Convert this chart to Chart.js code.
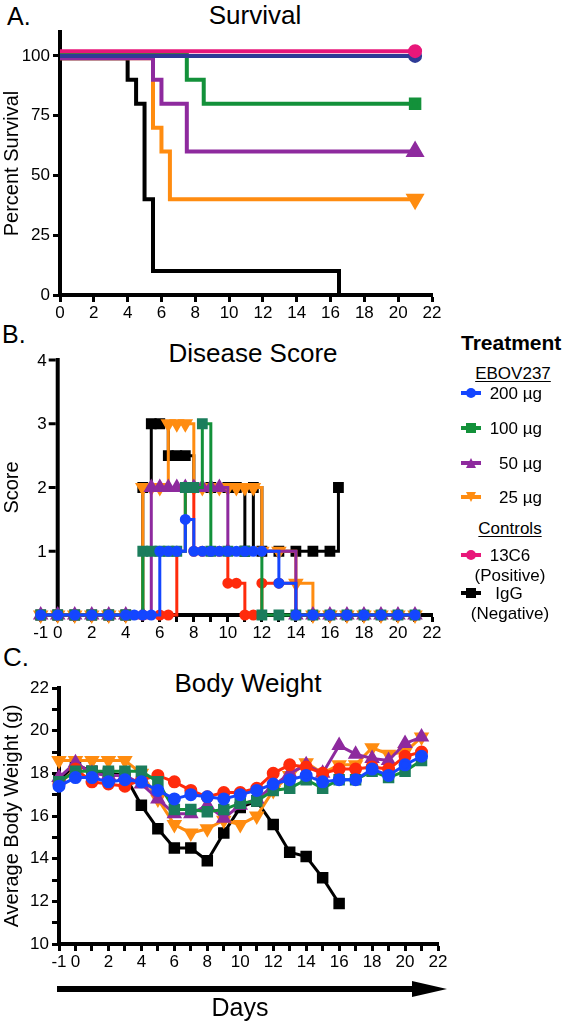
<!DOCTYPE html>
<html>
<head>
<meta charset="utf-8">
<script src="https://cdn.jsdelivr.net/npm/chart.js@4/dist/chart.umd.min.js"></script>
<style>
	body { margin: 0; background: #fff; font-family: "Liberation Sans", Arial, sans-serif; color: #000; }
	#page { position: relative; width: 566px; height: 1024px; overflow: hidden; }
	canvas { position: absolute; left: 0; }
	.t { position: absolute; line-height: 1; white-space: nowrap; }
	.c { text-align: center; }
	.u { text-decoration: underline; text-underline-offset: 2px; }
	.bar { position: absolute; width: 20px; height: 4px; }
	.mk { position: absolute; width: 10px; height: 10px; }
</style>
</head>
<body>
<div id="page">
	<div class="t" style="left:7px;top:4px;font-size:25px">A.</div>
	<div class="t c" style="left:155px;top:2px;width:200px;font-size:26px">Survival</div>
	<div class="t" style="left:2px;top:322px;font-size:25px">B.</div>
	<div class="t c" style="left:133px;top:340px;width:240px;font-size:26px">Disease Score</div>
	<div class="t" style="left:3px;top:644px;font-size:26px">C.</div>
	<div class="t c" style="left:148px;top:670px;width:200px;font-size:26px">Body Weight</div>

	<canvas id="chartA" width="450" height="325" style="top:0"></canvas>
	<canvas id="chartB" width="450" height="325" style="top:320px"></canvas>
	<canvas id="chartC" width="450" height="334" style="top:640px"></canvas>

	<div id="legend"></div>

	<!-- days arrow -->
	<div style="position:absolute;left:57px;top:986px;width:357px;height:6px;background:#000"></div>
	<div style="position:absolute;left:412px;top:981px;width:0;height:0;border-left:35px solid #000;border-top:8px solid transparent;border-bottom:8px solid transparent"></div>
	<div class="t c" style="left:140px;top:995px;width:200px;font-size:25px">Days</div>
</div>

<script>
// ---- A. Survival: day of each step and percent surviving after it
const survDays200 = [0, 21];
const survPct200 = [100, 100];
const survDays100 = [0, 7.5, 8.5, 21];
const survPct100 = [101, 90, 80, 80];
const survDays50 = [0, 5.5, 6, 7.5, 21];
const survPct50 = [99, 90, 80, 60, 60];
const survDays25 = [0, 5.5, 6, 6.5, 21];
const survPct25 = [99, 70, 60, 40, 40];
const survDays13C6 = [0, 21];
const survPct13C6 = [102, 102];
const survDaysIgG = [0, 4, 4.5, 5, 5.5, 16.5];
const survPctIgG = [99, 90, 80, 40, 10, 0];

// ---- B. Disease score
const scoreTicks = [1, 2, 3, 4];
const scoreDays200 = [-1, 0, 1, 2, 3, 4, 4.5, 5, 5.5, 6, 6.5, 7, 7.5, 8, 8.5, 9, 9.5, 10, 10.5, 11, 11.5, 12, 13, 14, 15, 16, 17, 18, 19, 20, 21];
const score200 = [0, 0, 0, 0, 0, 0, 0, 0, 0, 1, 1, 1, 1.5, 1, 1, 1, 1, 1, 1, 1, 1, 1, 0.5, 0, 0, 0, 0, 0, 0, 0, 0];
const scoreDays100 = [-1, 0, 1, 2, 3, 4, 5, 5.5, 6, 6.5, 7, 7.5, 8, 8.5, 9, 10, 11, 12, 13, 14, 15, 16, 17, 18, 19, 20, 21];
const score100 = [0, 0, 0, 0, 0, 0, 1, 1, 1, 1, 1, 2, 2, 3, 1, 1, 1, 0, 0, 0, 0, 0, 0, 0, 0, 0, 0];
const scoreDays50 = [-1, 0, 1, 2, 3, 4, 5, 5.5, 6, 6.5, 7, 7.5, 8, 8.5, 9, 9.5, 10, 14, 15, 16, 17, 18, 19, 20, 21];
const score50 = [0, 0, 0, 0, 0, 0, 0, 2, 2, 2, 2, 2, 2, 2, 2, 2, 1, 0, 0, 0, 0, 0, 0, 0, 0];
const scoreDays25 = [-1, 0, 1, 2, 3, 4, 5, 5.5, 6, 6.5, 7, 7.5, 8, 8.5, 9, 9.5, 10, 10.5, 11, 11.5, 12, 13, 14, 15, 16, 17, 18, 19, 20, 21];
const score25 = [0, 0, 0, 0, 0, 0, 2, 2, 2, 3, 3, 3, 2, 2, 2, 2, 2, 2, 2, 2, 1, 1, 0.5, 0, 0, 0, 0, 0, 0, 0];
const scoreDays13C6 = [-1, 0, 1, 2, 3, 4, 5, 6, 6.5, 7, 7.5, 8, 8.5, 9, 9.5, 10, 10.5, 11, 11.5, 12, 13, 14, 15, 16, 17, 18, 19, 20, 21];
const score13C6 = [0, 0, 0, 0, 0, 0, 0, 0, 0, 1, 2, 1, 1, 1, 1, 0.5, 0.5, 0, 0, 0.5, 0.5, 0, 0, 0, 0, 0, 0, 0, 0];
const scoreDaysIgG = [-1, 0, 1, 2, 3, 4, 5, 5.5, 6, 6.5, 7, 7.5, 8, 9, 10, 10.5, 11, 11.5, 12, 13, 14, 15, 16, 16.5];
const scoreIgG = [0, 0, 0, 0, 0, 0, 2, 3, 3, 2.5, 2.5, 2.5, 2, 2, 2, 2, 1, 2, 1, 1, 1, 1, 1, 2];

// ---- C. Body weight (g), one value per day from -1
const weightDays = [-1, 0, 1, 2, 3, 4, 5, 6, 7, 8, 9, 10, 11, 12, 13, 14, 15, 16, 17, 18, 19, 20, 21];
const weight200 = [17.4, 17.8, 17.8, 17.6, 17.7, 17.6, 17.2, 16.8, 17.0, 16.9, 16.8, 17.0, 17.2, 17.5, 17.7, 17.9, 17.6, 17.7, 17.7, 18.2, 17.9, 18.4, 18.8];
const weight100 = [17.6, 18.1, 18.1, 18.1, 18.1, 18.1, 17.6, 16.3, 16.3, 16.2, 16.3, 16.6, 16.7, 17.2, 17.3, 17.7, 17.3, 17.7, 17.7, 18.1, 17.8, 18.1, 18.6];
const weight50 = [17.8, 18.5, 18.0, 17.9, 17.9, 17.5, 16.8, 16.1, 16.1, 16.5, 15.9, 16.5, 16.8, 17.4, 18.0, 18.4, 18.0, 19.3, 18.9, 18.7, 18.6, 19.4, 19.7];
const weight25 = [18.6, 18.6, 18.6, 18.6, 18.6, 18.0, 16.8, 15.6, 15.2, 15.4, 15.8, 15.6, 16.0, 17.2, 17.9, 18.5, 18.0, 18.4, 18.4, 19.2, 18.9, 19.0, 19.7];
const weight13C6 = [17.5, 18.2, 17.6, 17.5, 17.4, 17.7, 17.9, 17.6, 17.2, 16.9, 17.1, 17.1, 17.3, 18.0, 18.4, 18.3, 18.0, 18.2, 18.2, 18.3, 18.2, 18.8, 19.0];
const weightIgG = [17.7, 18.4, 18.1, 18.0, 17.9, 16.5, 15.4, 14.5, 14.5, 13.9, 15.2, 16.4, 16.7, 15.6, 14.3, 14.1, 13.1, 11.9];

const colors = {
	navy: "#2e3b96",
	blue: "#1446ff",
	green: "#13913a",
	teal: "#1b7d5c",
	purple: "#8e2a9e",
	orange: "#ff8c10",
	pink: "#e8177a",
	red: "#ff2b0c",
	black: "#000000",
};
const fontFamily = '"Liberation Sans", Arial, sans-serif';

Chart.defaults.font.family = fontFamily;
Chart.defaults.color = "#000";
Chart.defaults.animation = false;

const pts = (xs, ys) => xs.map((x, i) => ({ x: x, y: ys[i] }));
const evenLabel = (v) => (v === -1 || v % 2 === 0 ? v : "");

function xAxis(min, max, step, cb) {
	return {
		type: "linear",
		min: min,
		max: max,
		border: { color: "#000", width: 4 },
		grid: { drawOnChartArea: false, tickColor: "#000", tickLength: 7, tickWidth: 3 },
		ticks: { stepSize: step, autoSkip: false, maxRotation: 0, includeBounds: false, font: { size: 17 }, padding: 1, callback: cb },
		afterFit: (s) => {
			s.height = 30;
			s.paddingLeft = 0;
			s.paddingRight = 0;
		},
	};
}

function yAxis(min, max, step, cb, title, width) {
	return {
		type: "linear",
		min: min,
		max: max,
		border: { color: "#000", width: 4 },
		grid: { drawOnChartArea: false, tickColor: "#000", tickLength: 7, tickWidth: 3 },
		ticks: { stepSize: step, autoSkip: false, includeBounds: false, font: { size: 17 }, padding: 3, callback: cb },
		title: { display: !!title, text: title, font: { size: 20 }, padding: 0 },
		afterFit: (s) => {
			s.width = width;
			s.paddingTop = 0;
			s.paddingBottom = 0;
		},
	};
}

const baseOptions = (padding, scales) => ({
	responsive: false,
	layout: { padding: padding },
	plugins: { legend: { display: false }, tooltip: { enabled: false } },
	scales: scales,
});

// survival: a marker only on the last point
function survSet(xs, ys, color, style, r, rot) {
	return {
		data: pts(xs, ys),
		borderColor: color,
		backgroundColor: color,
		borderWidth: 4,
		stepped: true,
		clip: false,
		pointStyle: style,
		pointRotation: rot || 0,
		pointRadius: xs.map((x, i) => (i === xs.length - 1 ? r : 0)),
	};
}

// lines with a marker on every point
function markSet(xs, ys, color, ptColor, style, r, rot, stepped) {
	return {
		data: pts(xs, ys),
		borderColor: color,
		backgroundColor: ptColor,
		pointBorderColor: ptColor,
		borderWidth: 3,
		stepped: stepped,
		clip: false,
		pointStyle: style,
		pointRotation: rot || 0,
		pointRadius: r,
		yAxisID: "y",
	};
}

// B's y axis crosses the x axis at day 0, so it is drawn here from the scales
const dayZeroAxis = {
	id: "dayZeroAxis",
	beforeDatasetsDraw(chart) {
		const { ctx, scales } = chart;
		const x0 = scales.x.getPixelForValue(0);
		const y = scales.y;
		ctx.save();
		ctx.strokeStyle = "#000";
		ctx.fillStyle = "#000";
		ctx.lineWidth = 4;
		ctx.beginPath();
		ctx.moveTo(x0, y.getPixelForValue(4) - 2);
		ctx.lineTo(x0, y.getPixelForValue(0));
		ctx.stroke();
		ctx.lineWidth = 3;
		ctx.font = `17px ${fontFamily}`;
		ctx.textAlign = "right";
		ctx.textBaseline = "middle";
		scoreTicks.forEach((v) => {
			const py = y.getPixelForValue(v);
			ctx.beginPath();
			ctx.moveTo(x0 - 2, py);
			ctx.lineTo(x0 - 9, py);
			ctx.stroke();
			ctx.fillText(String(v), x0 - 11, py + 1);
		});
		ctx.restore();
	},
};

// A. Survival
new Chart(document.getElementById("chartA"), {
	type: "line",
	data: {
		datasets: [
			survSet(survDays13C6, survPct13C6, colors.pink, "circle", 5),
			survSet(survDays200, survPct200, colors.navy, "circle", 5),
			survSet(survDays100, survPct100, colors.green, "rect", 6),
			survSet(survDays50, survPct50, colors.purple, "triangle", 7),
			survSet(survDays25, survPct25, colors.orange, "triangle", 7, 180),
			survSet(survDaysIgG, survPctIgG, colors.black, "rect", 0),
		],
	},
	options: baseOptions({ top: 32, right: 18 }, {
		x: xAxis(0, 22, 2),
		y: yAxis(0, 110, 25, undefined, "Percent Survival", 60),
	}),
});

// B. Disease score
new Chart(document.getElementById("chartB"), {
	type: "line",
	data: {
		datasets: [
			markSet(scoreDays200, score200, colors.blue, colors.blue, "circle", 4, 0, true),
			markSet(scoreDays100, score100, colors.green, colors.teal, "rect", 5.5, 0, true),
			markSet(scoreDays13C6, score13C6, colors.red, colors.red, "circle", 4, 0, true),
			markSet(scoreDays50, score50, colors.purple, colors.purple, "triangle", 6, 0, true),
			markSet(scoreDays25, score25, colors.orange, colors.orange, "triangle", 6, 180, true),
			markSet(scoreDaysIgG, scoreIgG, colors.black, colors.black, "rect", 5.5, 0, true),
		],
	},
	options: baseOptions({ top: 40, right: 18 }, {
		x: xAxis(-1, 22, 1, evenLabel),
		y: { type: "linear", min: 0, max: 4, display: false },
		yt: {
			type: "linear",
			position: "left",
			min: 0,
			max: 4,
			ticks: { display: false },
			grid: { display: false, drawTicks: false },
			border: { display: false },
			title: { display: true, text: "Score", font: { size: 20 }, padding: 0 },
			afterFit: (s) => {
				s.width = 40.7;
			},
		},
	}),
	plugins: [dayZeroAxis],
});

// C. Body weight
new Chart(document.getElementById("chartC"), {
	type: "line",
	data: {
		datasets: [
			markSet(weightDays, weight200, colors.blue, colors.blue, "circle", 5, 0, false),
			markSet(weightDays, weight100, colors.green, colors.teal, "rect", 6, 0, false),
			markSet(weightDays, weight13C6, colors.red, colors.red, "circle", 5, 0, false),
			markSet(weightDays, weight50, colors.purple, colors.purple, "triangle", 6, 0, false),
			markSet(weightDays, weight25, colors.orange, colors.orange, "triangle", 6, 180, false),
			markSet(weightDays.slice(0, weightIgG.length), weightIgG, colors.black, colors.black, "rect", 6, 0, false),
		],
	},
	options: baseOptions({ top: 48, right: 12 }, {
		x: xAxis(-1, 22, 1, evenLabel),
		y: yAxis(10, 22, 1, (v) => (v % 2 === 0 ? v : ""), "Average Body Weight (g)", 59),
	}),
});

// legend (html)
const legendItems = [
	{ text: "200 µg", color: colors.blue, shape: "circle", y: 393 },
	{ text: "100 µg", color: colors.green, shape: "square", y: 428 },
	{ text: "50 µg", color: colors.purple, shape: "up", y: 463 },
	{ text: "25 µg", color: colors.orange, shape: "down", y: 497 },
	{ text: "13C6", color: colors.pink, shape: "circle", y: 555 },
	{ text: "IgG", color: colors.black, shape: "square", y: 593 },
];
const shapes = {
	circle: "border-radius:50%",
	square: "",
	up: "clip-path:polygon(50% 0,100% 100%,0 100%)",
	down: "clip-path:polygon(0 0,100% 0,50% 100%)",
};
let html = "";
html += `<div class="t" style="left:461px;top:332px;font-size:21px;font-weight:bold">Treatment</div>`;
html += `<div class="t c u" style="left:463px;top:365px;width:100px;font-size:17px">EBOV237</div>`;
html += `<div class="t c u" style="left:460px;top:520px;width:100px;font-size:17px">Controls</div>`;
legendItems.forEach((it, i) => {
	html += `<div class="bar" style="left:461px;top:${it.y - 2}px;background:${it.color}"></div>`;
	html += `<div class="mk" style="left:466px;top:${it.y - 5}px;background:${it.color};${shapes[it.shape]}"></div>`;
	if (i < 4) {
		html += `<div class="t" style="left:482px;top:${it.y - 8}px;width:60px;text-align:right;font-size:17px">${it.text}</div>`;
	}
});
html += `<div class="t c" style="left:460px;top:547px;width:100px;font-size:17px">13C6</div>`;
html += `<div class="t c" style="left:460px;top:567px;width:100px;font-size:17px">(Positive)</div>`;
html += `<div class="t c" style="left:459px;top:585px;width:100px;font-size:17px">IgG</div>`;
html += `<div class="t c" style="left:460px;top:605px;width:100px;font-size:17px">(Negative)</div>`;
document.getElementById("legend").innerHTML = html;
</script>
</body>
</html>
